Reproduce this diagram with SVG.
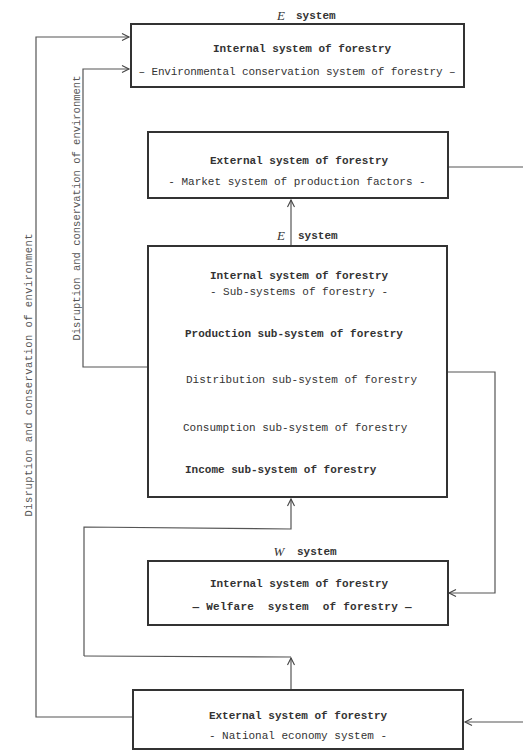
<svg xmlns="http://www.w3.org/2000/svg" width="523" height="752" viewBox="0 0 523 752">
<defs>
<marker id="arr" markerWidth="10" markerHeight="10" refX="8" refY="4" orient="auto" markerUnits="userSpaceOnUse">
<path d="M1,0.5 L8,4 L1,7.5" fill="none" stroke="#444" stroke-width="1.1"/>
</marker>
</defs>
<style>
.box{fill:#fff;stroke:#333;stroke-width:2}
.ln{fill:none;stroke:#555;stroke-width:1.2}
text{font-family:"Liberation Mono","DejaVu Sans Mono",monospace;font-size:11px;fill:#333}
.b{font-weight:bold}
.c{text-anchor:middle}
.it{font-family:"Liberation Serif",serif;font-style:italic;font-size:13px}
.v{font-size:10.5px;fill:#555}
</style>
<rect width="523" height="752" fill="#fff"/>
<g id="connectors">
<polyline class="ln" points="133,717 36,717 36,37 129,37" marker-end="url(#arr)"/>
<polyline class="ln" points="148,367 83,367 83,69 129,69" marker-end="url(#arr)"/>
<line class="ln" x1="291" y1="245" x2="291" y2="200" marker-end="url(#arr)"/>
<polyline class="ln" points="448,167 523,167"/>
<polyline class="ln" points="447,372 495,372 495,593 449,593" marker-end="url(#arr)"/>
<polyline class="ln" points="523,722 465,722" marker-end="url(#arr)"/>
<polyline class="ln" points="84,656 84,527 291,529 291,499" marker-end="url(#arr)"/>
<polyline class="ln" points="84,656 291,657"/>
<line class="ln" x1="291" y1="690" x2="291" y2="658" marker-end="url(#arr)"/>
<text class="v" transform="translate(32,375) rotate(-90)" text-anchor="middle" textLength="283">Disruption and conservation of environment</text>
<text class="v" transform="translate(80,208) rotate(-90)" text-anchor="middle" textLength="265">Disruption and conservation of environment</text>
</g>
<g id="env-system">
<text class="it" x="281" y="20" text-anchor="middle">E</text>
<text class="b" x="296" y="19">system</text>
<rect class="box" x="131" y="24" width="333" height="63"/>
<text class="c b" x="302" y="52">Internal system of forestry</text>
<text class="c" x="297" y="75" textLength="317">– Environmental conservation system of forestry –</text>
</g>
<g id="market-system">
<rect class="box" x="148" y="132" width="300" height="66"/>
<text class="c b" x="299" y="164">External system of forestry</text>
<text class="c" x="297" y="185">- Market system of production factors -</text>
</g>
<g id="sub-systems">
<text class="it" x="281" y="240" text-anchor="middle">E</text>
<text class="b" x="298" y="239">system</text>
<rect class="box" x="148" y="246" width="299" height="251"/>
<text class="c b" x="299" y="279">Internal system of forestry</text>
<text class="c" x="299" y="295">- Sub-systems of forestry -</text>
<text class="b" x="185" y="337">Production sub-system of forestry</text>
<text x="186" y="383">Distribution sub-system of forestry</text>
<text x="183" y="431">Consumption sub-system of forestry</text>
<text class="b" x="185" y="473">Income sub-system of forestry</text>
</g>
<g id="welfare-system">
<text class="it" x="279" y="556" text-anchor="middle">W</text>
<text class="b" x="297" y="555">system</text>
<rect class="box" x="148" y="561" width="300" height="64"/>
<text class="c b" x="299" y="587">Internal system of forestry</text>
<text class="c b" x="302" y="610" textLength="219" xml:space="preserve">— Welfare  system  of forestry —</text>
</g>
<g id="national-economy">
<rect class="box" x="133" y="690" width="330" height="59"/>
<text class="c b" x="298" y="719">External system of forestry</text>
<text class="c" x="298" y="739">- National economy system -</text>
</g>
</svg>
